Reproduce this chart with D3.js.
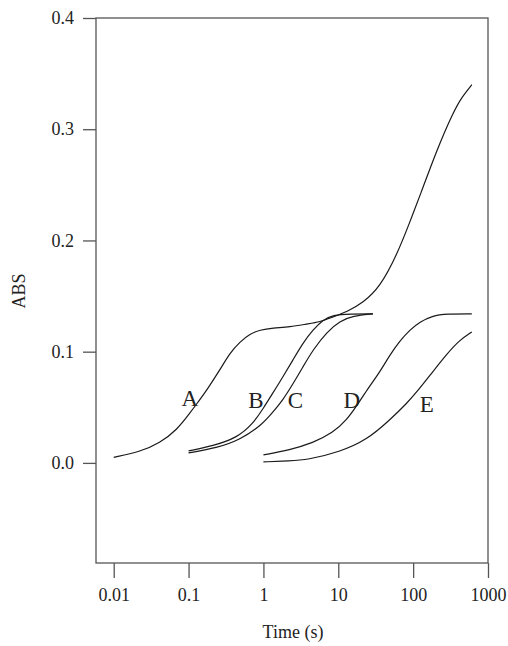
<!DOCTYPE html>
<html><head><meta charset="utf-8">
<script src="https://cdn.jsdelivr.net/npm/d3@7"></script>
<style>html,body{margin:0;padding:0;background:#fff;}svg{display:block;}</style>
</head><body>
<script>
// ---- data ----
const xTicks = [0.01, 0.1, 1, 10, 100, 1000];
const xTickLabels = ["0.01", "0.1", "1", "10", "100", "1000"];
const yTicks = [0.0, 0.1, 0.2, 0.3, 0.4];
const yTickLabels = ["0.0", "0.1", "0.2", "0.3", "0.4"];

const timeA = [0.01, 0.0224, 0.0415, 0.070, 0.1045, 0.134, 0.176, 0.262, 0.357, 0.485, 0.661, 0.898, 1.34, 2.26, 3.81, 5.68, 8.47, 13.0, 21.3, 36.0, 60.7, 90.4, 123, 207, 339, 447, 608];
const absA  = [0.005, 0.0099, 0.018, 0.0297, 0.0449, 0.0548, 0.0656, 0.0836, 0.0989, 0.1088, 0.116, 0.1196, 0.1213, 0.1222, 0.1249, 0.1267, 0.1312, 0.1357, 0.1438, 0.158, 0.187, 0.2166, 0.240, 0.2813, 0.3146, 0.329, 0.340];

const timeB = [0.1, 0.212, 0.443, 0.724, 0.984, 1.34, 1.82, 2.48, 3.37, 4.58, 6.23, 8.47, 14.3, 29.0];
const absB  = [0.0108, 0.0153, 0.0225, 0.0351, 0.0485, 0.0629, 0.0773, 0.0926, 0.1079, 0.1196, 0.1285, 0.133, 0.134, 0.134];

const timeC = [0.1, 0.239, 0.485, 0.955, 1.34, 1.82, 2.48, 3.37, 4.58, 7.05, 10.5, 15.7, 29.0];
const absC  = [0.009, 0.0135, 0.0207, 0.0342, 0.0458, 0.0566, 0.071, 0.0863, 0.1016, 0.1178, 0.1276, 0.1321, 0.134];

const timeD = [1.0, 2.26, 4.58, 8.47, 13.0, 17.7, 24.1, 36.0, 48.9, 66.4, 90.4, 123, 178, 282, 608];
const absD  = [0.0072, 0.0117, 0.018, 0.027, 0.0387, 0.0515, 0.0655, 0.0818, 0.0971, 0.1097, 0.1196, 0.1267, 0.1321, 0.134, 0.134];

const timeE = [1.0, 2.26, 3.81, 10.5, 24.1, 48.9, 82.4, 116, 167, 282, 420, 608];
const absE  = [0.0009, 0.0018, 0.0027, 0.0099, 0.0207, 0.0387, 0.0535, 0.065, 0.0785, 0.098, 0.1106, 0.1178];

const curveNames = ["A", "B", "C", "D", "E"];
const labelTime = [0.104, 0.794, 2.68, 15.2, 152];
const labelAbs  = [0.051, 0.0494, 0.0494, 0.0494, 0.0458];

const xTitle = "Time (s)";
const yTitle = "ABS";

// ---- chart ----
const W = 508, H = 646;
const mLeft = 96, mRight = 488, mTop = 18, mBottom = 563;
const x = d3.scaleLog().domain([0.0058, 1000]).range([mLeft, mRight]);
const y = d3.scaleLinear().domain([-0.09, 0.4]).range([mBottom, mTop]);

const svg = d3.select("body").append("svg").attr("width", W).attr("height", H)
  .style("font-family", "'Liberation Serif','Times New Roman',serif");

const axisColor = "#555";
const fs = 18;

// frame
svg.append("rect").attr("x", mLeft).attr("y", mTop).attr("width", mRight - mLeft).attr("height", mBottom - mTop)
  .attr("fill", "none").attr("stroke", axisColor).attr("stroke-width", 1.3);

// x axis
const xAxis = d3.axisBottom(x).tickValues(xTicks).tickFormat((d, i) => xTickLabels[i])
  .tickSize(15).tickPadding(10);
const gx = svg.append("g").attr("transform", `translate(0,${mBottom})`).call(xAxis);
gx.select(".domain").remove();
gx.selectAll("line").attr("stroke", axisColor).attr("stroke-width", 1.3);
gx.selectAll("text").attr("font-size", fs).attr("fill", "#222").attr("font-family", "'Liberation Serif',serif");

// y axis
const yAxis = d3.axisLeft(y).tickValues(yTicks).tickFormat((d, i) => yTickLabels[i])
  .tickSize(13).tickPadding(9);
const gy = svg.append("g").attr("transform", `translate(${mLeft},0)`).call(yAxis);
gy.select(".domain").remove();
gy.selectAll("line").attr("stroke", axisColor).attr("stroke-width", 1.3);
gy.selectAll("text").attr("font-size", fs).attr("fill", "#222").attr("font-family", "'Liberation Serif',serif");

// titles
svg.append("text").attr("x", 293).attr("y", 638).attr("text-anchor", "middle")
  .attr("font-size", fs).attr("fill", "#222").text(xTitle);
svg.append("text").attr("transform", "translate(25,291) rotate(-90)").attr("text-anchor", "middle")
  .attr("font-size", fs).attr("fill", "#222").text(yTitle);

// curves
const series = [[timeA, absA], [timeB, absB], [timeC, absC], [timeD, absD], [timeE, absE]];
const line = d3.line().x(d => x(d[0])).y(d => y(d[1])).curve(d3.curveBasis);
series.forEach(([t, a]) => {
  const pts = t.map((v, i) => [v, a[i]]);
  svg.append("path").attr("d", line(pts)).attr("fill", "none")
    .attr("stroke", "#1a1a1a").attr("stroke-width", 1.2);
});

// curve labels
curveNames.forEach((n, i) => {
  svg.append("text").attr("x", x(labelTime[i])).attr("y", y(labelAbs[i]))
    .attr("text-anchor", "middle").attr("font-size", 23).attr("fill", "#222").text(n);
});
</script>
</body></html>
